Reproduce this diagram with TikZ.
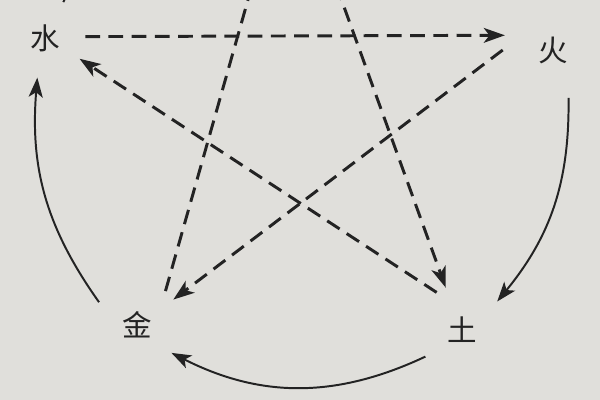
\documentclass[tikz,border=0pt]{standalone}
\usepackage{fontspec}
\newfontfamily\cjk{Noto Sans CJK SC}
\usetikzlibrary{arrows.meta}
\definecolor{papel}{RGB}{224,223,219}
\definecolor{tinta}{RGB}{35,35,35}

\begin{document}
\begin{tikzpicture}[x=0.025cm, y=-0.025cm]
  % Fondo y recorte
  \fill[papel] (0,0) rectangle (600,400);
  \useasboundingbox (0,0) rectangle (600,400);
  \clip (0,0) rectangle (600,400);

  % Elementos
  \tikzstyle{elem}=[circle, inner sep=0pt, text=tinta, font=\cjk\fontsize{21}{21}\selectfont]
  \tikzstyle{ke}=[draw=tinta, line width=2.1pt, dash pattern=on 10.5pt off 6pt, -{Stealth[length=15pt, width=10.5pt, inset=4pt]}]
  \tikzstyle{sheng}=[draw=tinta, line width=1.4pt, -{Stealth[length=14pt, width=10pt, inset=3.5pt]}]

  \node[elem, minimum size=2cm] (shui) at (45,38) {水};
  \node[elem, minimum size=2.5cm] (huo) at (553,50) {火};
  \node[elem, minimum size=2.25cm] (tu) at (462,330) {土};
  \node[elem, minimum size=2.2cm] (jin) at (137,325) {金};
  \coordinate (mu) at (289,-145);

  % Ciclo de control
  \draw[ke] (shui.2) -- (huo.163);
  \draw[ke] (huo.180) -- (jin.35);
  \draw[ke] (tu.124) -- (shui.-31);
  \draw[ke] (mu) -- (tu.111);
  \draw[ke] (jin.50) -- (mu);

  % Ciclo de generacion
  \draw[sheng] (huo.-72) to[bend left=20] (tu.39);
  \draw[sheng] (tu.216) to[bend left=26] (jin.-39);
  \draw[sheng] (jin.149) to[bend left=20] (shui.-101);
  \draw[sheng] (shui.63) to[bend left=30] (mu);
\end{tikzpicture}
\end{document}
